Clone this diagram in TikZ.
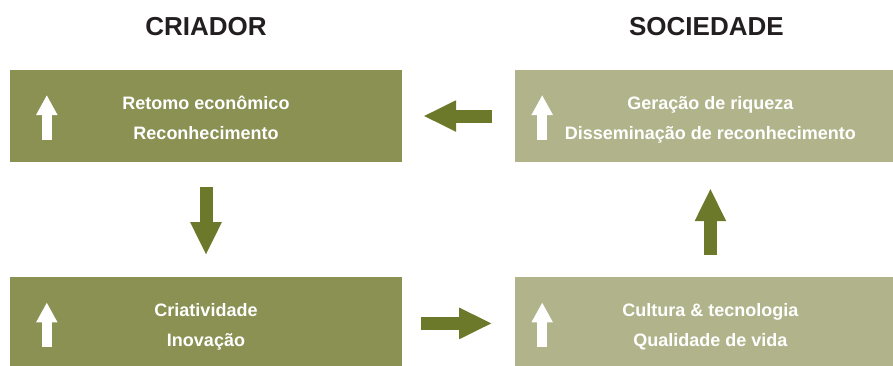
\documentclass[tikz,border=0pt]{standalone}
\usepackage{fontspec}
\setmainfont{Liberation Sans}
\usetikzlibrary{positioning, arrows.meta}
\definecolor{criadorGreen}{RGB}{139,144,83}
\definecolor{sociedadeGreen}{RGB}{177,180,139}
\definecolor{arrowGreen}{RGB}{108,121,43}
\definecolor{titleGray}{RGB}{35,31,32}
\begin{document}
\begin{tikzpicture}[x=1pt, y=-1pt, node distance=113pt]
	\tikzstyle{criador} = [rectangle, minimum width=392pt, minimum height=92pt, 
	inner sep=0pt, fill=criadorGreen, text=white, align=center, 
	text height=51pt, text depth=4pt, font=\bfseries\fontsize{18}{30}\selectfont]
	\tikzstyle{sociedade} = [criador, minimum width=390pt, fill=sociedadeGreen]
	\tikzstyle{title} = [inner sep=0pt, text=titleGray, 
	font=\bfseries\fontsize{26}{30}\selectfont]
	\tikzstyle{arrow} = [draw=arrowGreen, line width=13pt, 
	-{Triangle[width=29pt, length=33pt]}]
	\tikzstyle{whiteArrow} = [draw=white, line width=10pt, 
	-{Triangle[width=20pt, length=20pt]}]
	\useasboundingbox (0,0) rectangle (893,365);
	\node (retorno) [criador] at (206,116) {Retomo econômico\\Reconhecimento};
	\node (riqueza) [sociedade, right=113pt of retorno] 
	{Geração de riqueza\\Disseminação de reconhecimento};
	\node (criatividade) [criador, below=115pt of retorno] {Criatividade\\Inovação};
	\node (cultura) [sociedade, below=115pt of riqueza] 
	{Cultura \& tecnologia\\Qualidade de vida};
	\node (criador) [title, above=34pt of retorno] {CRIADOR};
	\node (sociedade) [title, above=34pt of riqueza, xshift=-4pt] {SOCIEDADE};
	% setas brancas dentro das caixas
	\foreach \n/\dx in {retorno/37, riqueza/27, criatividade/37, cultura/27}
		\draw [whiteArrow] ([xshift=\dx pt, yshift=-24pt]\n.west) 
		-- ([xshift=\dx pt, yshift=21pt]\n.west);
	\draw [arrow, shorten <=23pt, shorten >=21pt] (riqueza.west) -- (retorno.east);
	\draw [arrow, shorten <=25pt, shorten >=22pt] (retorno.south) -- (criatividade.north);
	\draw [arrow, shorten <=19pt, shorten >=23pt] (criatividade.east) -- (cultura.west);
	\draw [arrow, shorten <=22pt, shorten >=26pt] (cultura.north) -- (riqueza.south);
\end{tikzpicture}
\end{document}
